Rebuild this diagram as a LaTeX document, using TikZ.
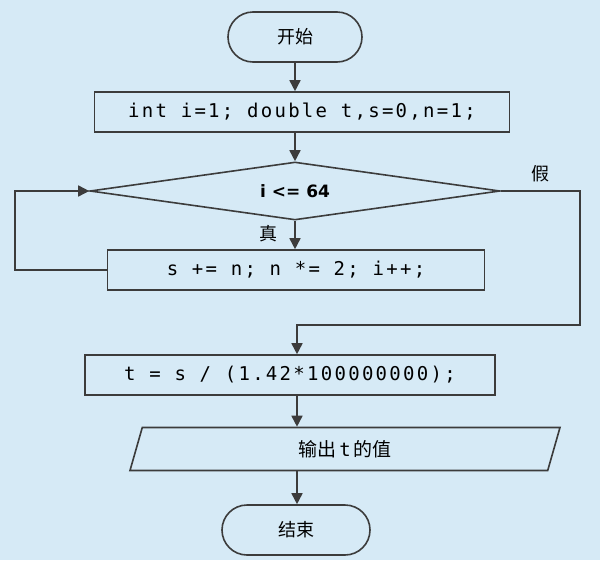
\documentclass[tikz,border=0pt]{standalone}
\usepackage{fontspec}
\setmainfont{DejaVu Sans}
\newfontfamily\cjk{Noto Sans CJK SC}
\newfontfamily\codefont[LetterSpace=12]{DejaVu Sans Mono}
\usetikzlibrary{shapes.geometric,arrows.meta,positioning}
\definecolor{bgBlue}{RGB}{214,234,246}
\definecolor{lineGray}{RGB}{60,60,60}

\begin{document}
\begin{tikzpicture}[x=1pt,y=-1pt,
    line width=1.6pt,draw=lineGray,
    flow/.style={-{Triangle[length=11pt,width=11pt]},line width=1.6pt,draw=lineGray},
    term/.style={draw=lineGray,rounded corners=25pt,minimum width=134pt,minimum height=50pt,font=\cjk\fontsize{18}{21}\selectfont},
    stmt/.style={draw=lineGray,minimum height=40pt,inner sep=0pt,font=\codefont\fontsize{19}{22}\selectfont},
    cond/.style={draw=lineGray,diamond,aspect=7.07,minimum width=410pt,minimum height=58pt,inner sep=0pt,font=\bfseries\fontsize{17}{20}\selectfont},
    io/.style={draw=lineGray,trapezium,trapezium left angle=55,trapezium right angle=125,trapezium stretches body,minimum width=430pt,minimum height=43pt,inner sep=0pt,font=\fontsize{19}{22}\selectfont},
    tag/.style={font=\cjk\fontsize{18}{21}\selectfont}]

  \fill[bgBlue] (0,0) rectangle (600,560);
  \useasboundingbox (0,0) rectangle (600,560);

  % nodes
  \node[term] (start) at (295,37) {开始};
  \node[stmt,minimum width=415pt] (init) at (302,112) {int i=1; double t,s=0,n=1;};
  \node[cond] (test) at (295,191) {i <= 64};
  \node[stmt,minimum width=377pt] (body) at (296,270) {s += n; n *= 2; i++;};
  \node[stmt,minimum width=410pt] (calc) at (290,375) {t = s / (1.42*100000000);};
  \node[io] (out) at (345,449) {{\cjk 输出}\,{\codefont t}\,{\cjk 的值}};
  \node[term,minimum width=148pt] (stop) at (296,530) {结束};
  \node[tag] (yes) at (268,234) {真};
  \node[tag] (no) at (540,174) {假};
  \coordinate (loopL) at (15,270);
  \coordinate (exitR) at (580,325);
  \coordinate (axisA) at (295,0);
  \coordinate (axisB) at (297,0);

  % connectors
  \draw[flow] (start.south) -- (init.north -| axisA);
  \draw[flow] (init.south -| axisA) -- (test.north);
  \draw[flow] (test.south) -- (body.north -| test.south);
  \draw[flow] (body.west) -- (loopL) |- (test.west);
  \draw[flow] (test.east) -| (exitR) -| (calc.north -| axisB);
  \draw[flow] (calc.south -| axisB) -- (out.north -| axisB);
  \draw[flow] (out.south -| axisB) -- (stop.north -| axisB);
\end{tikzpicture}
\end{document}
